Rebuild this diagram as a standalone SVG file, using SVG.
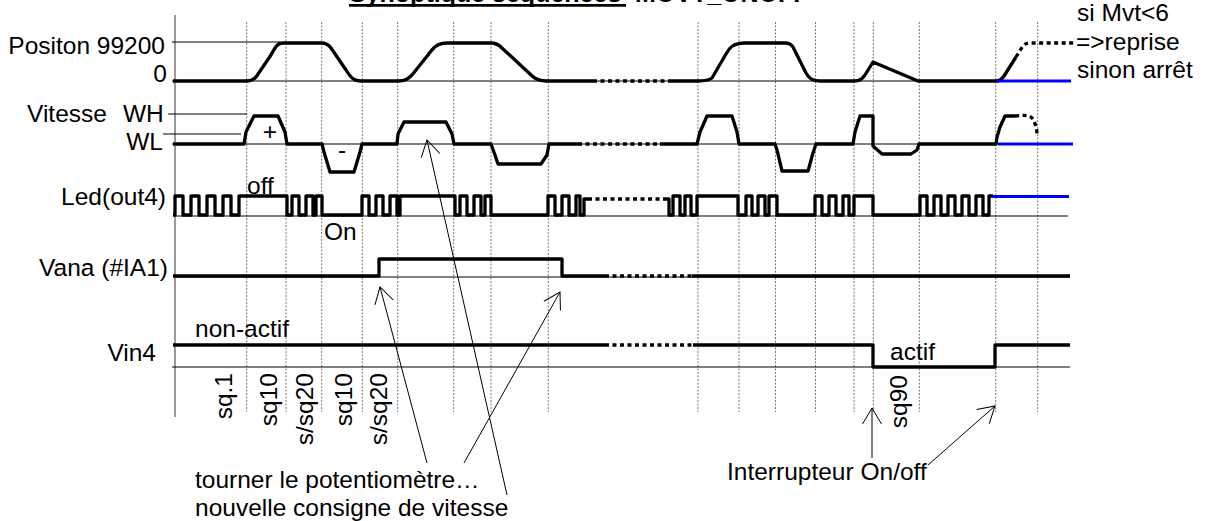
<svg xmlns="http://www.w3.org/2000/svg" width="1210" height="521" viewBox="0 0 1210 521">
<defs>
<style>
.wave{fill:none;stroke:#000;stroke-width:3.3;stroke-linejoin:round}
.dot{fill:none;stroke:#000;stroke-width:3.3;stroke-dasharray:4 3.5}
.blue{fill:none;stroke:#0000ff;stroke-width:3}
.thin{stroke:#000;stroke-width:1;fill:none}
.grid{stroke:#777;stroke-width:1;stroke-dasharray:2 1.5;fill:none}
.axis{stroke:#555;stroke-width:1.2;fill:none}
.lbl{font-family:"Liberation Sans",Arial,sans-serif;font-size:24.5px;fill:#000}
.title{font-family:"Liberation Sans",Arial,sans-serif;font-size:25px;font-weight:bold;fill:#000}
.arrow{stroke:#000;stroke-width:1;fill:none;marker-end:url(#ah)}
</style>
<marker id="ah" markerWidth="20" markerHeight="22" refX="17" refY="10.5" orient="auto" markerUnits="userSpaceOnUse">
<path d="M1,1 L17,10.5 L1,20" fill="none" stroke="#000" stroke-width="1"/>
</marker>
</defs>
<rect width="1210" height="521" fill="#fff"/>

<g id="title">
<text class="title" x="349" y="2">Synoptique séquences <tspan x="635">MOVT_ONOFF</tspan></text>
<line x1="349" y1="5.3" x2="626" y2="5.3" stroke="#000" stroke-width="2.7"/>
</g>

<g id="grid">
<line class="axis" x1="175" y1="15" x2="175" y2="417"/>
<path class="grid" d="M246.7,22V412M286,22V412M321.7,22V412M362.3,22V412M397.7,22V412M453.7,22V412M491,22V412M548.3,22V412M698,22V412M739,22V412M775.5,22V412M815.5,22V412M854,22V412M873.3,22V412M919.3,22V412M995.7,22V412M1037.7,22V412"/>
<path class="thin" d="M172,42H280M172,81H1070M168,114H247M163,134H241M172,144H1070M175,216H1068M175,277H1070M172,367H1070"/>
</g>

<g id="sig-position">
<text class="lbl" x="165" y="54" text-anchor="end">Positon 99200</text>
<text class="lbl" x="167" y="82" text-anchor="end">0</text>
<path class="wave" d="M173,81 H247 C251,81 253,80 256,77 L271,55 C275,48 277,43 283,43 H321 C326,43 329,45 331,48 L346,70 C351,78 354,81 361,81 H398 C405,81 408,79 412,75 L428,55 C433,48 437,43 447,43 H491 C496,43 499,45 502,48 L530,74 C535,79 538,81 550,81 H593"/>
<path class="dot" d="M593,81 H668"/>
<path class="wave" d="M668,81 H698 C705,81 709,80 712,78 L726,54 C729,48 733,43 745,43 H785 C789,43 791,44 793,47 L806,73 C809,78 812,81 820,81 H854 C860,81 862,79 865,75 L873,62 L918,81 H996 C1000,81 1002,79 1004,76 L1016,57"/>
<path class="dot" d="M1016,57 L1021,49 C1024,44 1026,43 1030,43 H1075"/>
<path class="blue" d="M997,81 H1071"/>
<text class="lbl" x="1077" y="21">si Mvt&lt;6</text>
<text class="lbl" x="1076" y="49.5">=&gt;reprise</text>
<text class="lbl" x="1077" y="78">sinon arrêt</text>
</g>

<g id="sig-vitesse">
<text class="lbl" y="122"><tspan x="27">Vitesse</tspan><tspan x="123">WH</tspan></text>
<text class="lbl" x="163" y="150" text-anchor="end">WL</text>
<text class="lbl" x="270" y="140" text-anchor="middle">+</text>
<text class="lbl" x="342" y="158" text-anchor="middle">-</text>
<path class="wave" d="M173,144 H244 L246,132 L254,116 H278 L285,132 L287,144 H322 L324,152 L330,172 H354 L360,152 L362,144 H397 L398,134 L404,122 H446 L452,134 L454,144 H491 L495,155 L498,164 H541 L547,155 L549,144 H578"/>
<path class="dot" d="M578,144 H660"/>
<path class="wave" d="M660,144 H697 L700,132 L707,116 H732 L737,132 L739,144 H775 L777,150 L782,171 H808 L813,153 L816,144 H853 L855,132 L860,116 H873 V146 L882,154 H911 L917,150 L919,144 H996 L997,137 L1000,127 L1005,116 H1015"/>
<path class="dot" d="M1015,116 C1025,115 1029,115 1032,118 C1035,122 1037,128 1037,135"/>
<path class="blue" d="M998,144 H1073"/>
</g>

<g id="sig-led">
<text class="lbl" x="166" y="205" text-anchor="end">Led(out4)</text>
<text class="lbl" x="247" y="194">off</text>
<text class="lbl" x="324" y="240">On</text>
<path class="wave" d="M173,215 H175 V196 H183 V215 H191 V196 H199 V215 H207 V196 H215 V215 H223 V196 H231 V215 H239 V196 H287 V215 H292 V196 H299 V215 H306 V196 H313 V215 H316 V196 H322 V215 H362 V196 H369 V215 H376 V196 H383 V215 H390 V196 H397 V215 H400 V196 H455 V215 H460 V196 H467 V215 H474 V196 H481 V215 H485 V196 H491 V215 H548 V196 H555 V215 H562 V196 H569 V215 H576 V196 H580 V215 H584 V199 H588"/>
<path class="dot" d="M588,199 H663"/>
<path class="wave" d="M663,199 H669 V215 H673 V196 H680 V215 H685 V196 H691 V215 H697 V196 H738 V215 H746 V196 H752 V215 H758 V196 H765 V215 H769 V196 H777 V215 H815 V196 H822 V215 H829 V196 H836 V215 H843 V196 H849 V215 H854 V196 H873 V215 H920 V196 H927 V215 H934 V196 H941 V215 H948 V196 H955 V215 H962 V196 H969 V215 H976 V196 H983 V215 H989 V196 H993"/>
<path class="blue" d="M993,196.5 H1069"/>
</g>

<g id="sig-vana">
<text class="lbl" x="168" y="276" text-anchor="end">Vana (#IA1)</text>
<path class="wave" d="M173,276 H379 V259 H562 V276 H605"/>
<path class="dot" d="M605,276 H692"/>
<path class="wave" d="M692,276 H1070"/>
</g>

<g id="sig-vin4">
<text class="lbl" x="156" y="360.5" text-anchor="end">Vin4</text>
<text class="lbl" x="195" y="337">non-actif</text>
<text class="lbl" x="890" y="360">actif</text>
<path class="wave" d="M173,345 H605"/>
<path class="dot" d="M605,345 H693"/>
<path class="wave" d="M693,345 H873 V367 H995 V345 H1070"/>
</g>

<g id="steps">
<text class="lbl" transform="translate(232,373) rotate(-90)" text-anchor="end">sq.1</text>
<text class="lbl" transform="translate(277,373) rotate(-90)" text-anchor="end">sq10</text>
<text class="lbl" transform="translate(313,373) rotate(-90)" text-anchor="end">s/sq20</text>
<text class="lbl" transform="translate(352,373) rotate(-90)" text-anchor="end">sq10</text>
<text class="lbl" transform="translate(387,373) rotate(-90)" text-anchor="end">s/sq20</text>
<text class="lbl" transform="translate(907,375) rotate(-90)" text-anchor="end">sq90</text>
</g>

<g id="notes">
<text class="lbl" x="195" y="488">tourner le potentiomètre…</text>
<text class="lbl" x="195" y="516">nouvelle consigne de vitesse</text>
<text class="lbl" x="727" y="480">Interrupteur On/off</text>
</g>

<g id="connectors">
<path class="arrow" d="M427,463 L380,287"/>
<path class="arrow" d="M464,463 L560,292"/>
<path class="arrow" d="M507,495 L427,140"/>
<path class="arrow" d="M872,458 L872,408"/>
<path class="arrow" d="M928,465 L995,406"/>
</g>
</svg>
